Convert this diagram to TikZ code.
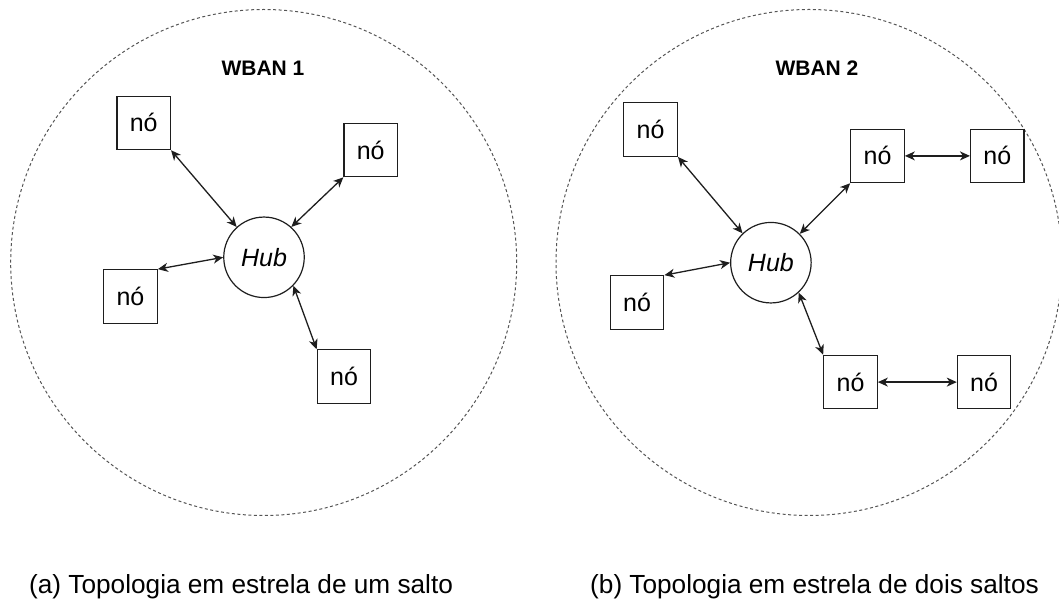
\documentclass[tikz,border=0pt]{standalone}
\usepackage{fontspec}
\setmainfont{Liberation Sans}
\usetikzlibrary{arrows.meta}
\definecolor{ink}{HTML}{1E1E1E}
\definecolor{zone}{HTML}{555555}
\begin{document}
\begin{tikzpicture}[x=1pt,y=-1pt,
  nodebox/.style={draw=ink, line width=1.2pt, minimum size=53.5pt, inner sep=0pt,
                  font=\fontsize{25}{29}\selectfont},
  hubnode/.style={circle, draw=ink, line width=1.2pt, minimum size=80.5pt, inner sep=0pt,
                  font=\fontsize{25}{29}\selectfont\itshape},
  zonecircle/.style={circle, draw=zone, line width=1pt, dash pattern=on 3pt off 2.5pt,
                     minimum size=506pt, inner sep=0pt},
  link/.style={draw=ink, line width=1.3pt,
               {Stealth[length=10pt,width=9pt,inset=3pt]}-{Stealth[length=10pt,width=9pt,inset=3pt]}},
  wbantitle/.style={font=\fontsize{21}{25}\selectfont\bfseries, inner sep=0pt},
  caption/.style={font=\fontsize{26.2}{30}\selectfont, anchor=base west, inner sep=0pt}]
\useasboundingbox (0,0) rectangle (1059,601);

% WBAN 1: single-hop star
\node[zonecircle] (z1) at (263.7,262.5) {};
\node[wbantitle] (t1) at (263,68.5) {WBAN 1};
\node[hubnode] (h1) at (264,257.3) {Hub};
\node[nodebox] (a1) at (143.7,122.9) {nó};
\node[nodebox] (a2) at (370.7,150) {nó};
\node[nodebox] (a3) at (130.5,296.5) {nó};
\node[nodebox] (a4) at (344,376.6) {nó};
\draw[link] (a1.south east) -- (h1.132);
\draw[link] (a2.south west) -- (h1.48);
\draw[link] (a3.north east) -- (h1.west);
\draw[link] (a4.north west) -- (h1.-44);

% WBAN 2: two-hop star
\node[zonecircle] (z2) at (809,262.5) {};
\node[wbantitle] (t2) at (817,68.5) {WBAN 2};
\node[hubnode] (h2) at (770.9,262.7) {Hub};
\node[nodebox] (b1) at (650.6,129.6) {nó};
\node[nodebox] (b2) at (877.5,155.9) {nó};
\node[nodebox] (b3) at (997.3,155.9) {nó};
\node[nodebox] (b4) at (637.1,302.5) {nó};
\node[nodebox] (b5) at (850.5,382.1) {nó};
\node[nodebox] (b6) at (984.1,382.1) {nó};
\draw[link] (b1.south east) -- (h2.134);
\draw[link] (b2.south west) -- (h2.45);
\draw[link] (b4.north east) -- (h2.west);
\draw[link] (b5.north west) -- (h2.-47);
\draw[link] (b2.east) -- (b3.west);
\draw[link] (b5.east) -- (b6.west);

% captions
\node[caption] (c1) at (29,593) {(a) Topologia em estrela de um salto};
\node[caption] (c2) at (590,593) {(b) Topologia em estrela de dois saltos};
\end{tikzpicture}
\end{document}
